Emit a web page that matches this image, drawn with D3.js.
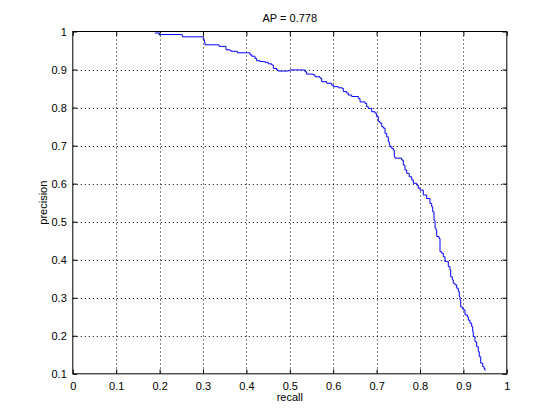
<!DOCTYPE html>
<html><head><meta charset="utf-8">
<script src="https://cdn.jsdelivr.net/npm/d3@7"></script>
<style>body{margin:0;background:#fff}</style>
</head><body>
<svg id="c" width="560" height="420"></svg>
<script>
const chartTitle = "AP = 0.778";
const xLabel = "recall";
const yLabel = "precision";
const xTicks = [0,0.1,0.2,0.3,0.4,0.5,0.6,0.7,0.8,0.9,1];
const yTicks = [0.1,0.2,0.3,0.4,0.5,0.6,0.7,0.8,0.9,1];
const recall = [0.1894,0.1986,0.1986,0.2509,0.2523,0.2984,0.3007,0.3030,0.3046,0.3353,0.3369,0.3507,0.3530,0.3622,0.3645,0.3760,0.3790,0.4007,0.4083,0.4122,0.4198,0.4237,0.4313,0.4429,0.4505,0.4583,0.4620,0.4698,0.4735,0.4965,0.5005,0.5274,0.5350,0.5389,0.5541,0.5581,0.5696,0.5735,0.5850,0.5965,0.6002,0.6118,0.6196,0.6233,0.6311,0.6348,0.6426,0.6578,0.6618,0.6733,0.6772,0.6809,0.6887,0.6963,0.7002,0.7039,0.7078,0.7118,0.7154,0.7194,0.7233,0.7270,0.7293,0.7309,0.7348,0.7385,0.7408,0.7424,0.7539,0.7578,0.7615,0.7654,0.7693,0.7753,0.7809,0.7846,0.7924,0.7961,0.8000,0.8076,0.8154,0.8230,0.8270,0.8293,0.8323,0.8346,0.8369,0.8385,0.8438,0.8461,0.8500,0.8537,0.8576,0.8629,0.8652,0.8691,0.8707,0.8744,0.8767,0.8806,0.8846,0.8882,0.8906,0.8922,0.8938,0.8975,0.8998,0.9037,0.9090,0.9113,0.9152,0.9191,0.9214,0.9228,0.9267,0.9306,0.9343,0.9366,0.9399,0.9445,0.9475,0.9498];
const precision = [0.996,0.996,0.992,0.992,0.986,0.986,0.979,0.972,0.965,0.965,0.961,0.961,0.952,0.950,0.948,0.948,0.944,0.944,0.939,0.935,0.929,0.923,0.921,0.919,0.915,0.912,0.903,0.899,0.896,0.897,0.899,0.899,0.894,0.888,0.886,0.881,0.877,0.868,0.864,0.859,0.855,0.852,0.851,0.842,0.838,0.833,0.829,0.824,0.815,0.811,0.802,0.798,0.789,0.785,0.776,0.763,0.759,0.750,0.746,0.732,0.723,0.710,0.702,0.697,0.693,0.688,0.671,0.667,0.667,0.662,0.649,0.636,0.627,0.618,0.610,0.601,0.596,0.588,0.583,0.570,0.561,0.548,0.539,0.526,0.504,0.483,0.478,0.461,0.456,0.421,0.417,0.408,0.395,0.395,0.382,0.373,0.355,0.347,0.338,0.334,0.325,0.316,0.303,0.294,0.276,0.272,0.268,0.255,0.250,0.241,0.233,0.224,0.211,0.198,0.184,0.171,0.158,0.145,0.128,0.119,0.114,0.108];

const L = 72.8, T = 31.5, W = 434, H = 342.3;
const FONT = "'Liberation Sans', Arial, Helvetica, sans-serif";
const svg = d3.select("#c");
svg.append("rect").attr("width",560).attr("height",420).attr("fill","#fff");
const x = d3.scaleLinear().domain([0,1]).range([L, L+W]);
const y = d3.scaleLinear().domain([0.1,1]).range([T+H, T]);
const g = svg.append("g");

// grid
g.selectAll(".gx").data(xTicks.filter(t=>t>0&&t<1)).enter().append("line")
  .attr("x1",d=>Math.round(x(d))+0.5).attr("x2",d=>Math.round(x(d))+0.5)
  .attr("y1",T).attr("y2",T+H)
  .attr("stroke","#000").attr("stroke-width",1).attr("stroke-dasharray","1,3");
g.selectAll(".gy").data(yTicks.filter(t=>t>0.1&&t<1)).enter().append("line")
  .attr("y1",d=>Math.round(y(d))+0.5).attr("y2",d=>Math.round(y(d))+0.5)
  .attr("x1",L).attr("x2",L+W)
  .attr("stroke","#000").attr("stroke-width",1).attr("stroke-dasharray","1,3");

// curve
const pts = recall.map((r,i)=>[r,precision[i]]);
g.append("path").datum(pts)
  .attr("d", d3.line().x(d=>x(d[0])).y(d=>y(d[1])).curve(d3.curveStepAfter))
  .attr("fill","none").attr("stroke","#0000ff").attr("stroke-width",1);

// axes (ticks inward on all sides)
const fmt = d => String(+d.toFixed(1));
const tl = 4.3;
const axB = d3.axisBottom(x).tickValues(xTicks).tickFormat(fmt).tickSizeInner(-tl).tickSizeOuter(0).tickPadding(8);
const axT = d3.axisTop(x).tickValues(xTicks).tickFormat("").tickSizeInner(-tl).tickSizeOuter(0);
const axLft = d3.axisLeft(y).tickValues(yTicks).tickFormat(fmt).tickSizeInner(-tl).tickSizeOuter(0).tickPadding(6);
const axR = d3.axisRight(y).tickValues(yTicks).tickFormat("").tickSizeInner(-tl).tickSizeOuter(0);
function style(sel){
  sel.selectAll("path").remove();
  sel.selectAll("line").attr("stroke","#000");
  sel.selectAll("text").attr("fill","#000").style("font-family",FONT).style("font-size","11px");
}
svg.append("g").attr("transform",`translate(0,${T+H})`).call(axB).call(style);
svg.append("g").attr("transform",`translate(0,${T})`).call(axT).call(style);
svg.append("g").attr("transform",`translate(${L},0)`).call(axLft).call(style);
svg.append("g").attr("transform",`translate(${L+W},0)`).call(axR).call(style);
svg.append("rect").attr("x",L).attr("y",T).attr("width",W).attr("height",H)
  .attr("fill","none").attr("stroke","#000").attr("stroke-width",1);

// labels
svg.append("text").attr("x",L+W/2).attr("y",22).attr("text-anchor","middle")
  .style("font-family",FONT).style("font-size","11px").text(chartTitle);
svg.append("text").attr("x",L+W/2).attr("y",401).attr("text-anchor","middle")
  .style("font-family",FONT).style("font-size","11px").text(xLabel);
svg.append("text").attr("transform",`translate(47,${T+H/2}) rotate(-90)`).attr("text-anchor","middle")
  .style("font-family",FONT).style("font-size","11px").text(yLabel);
</script>
</body></html>
